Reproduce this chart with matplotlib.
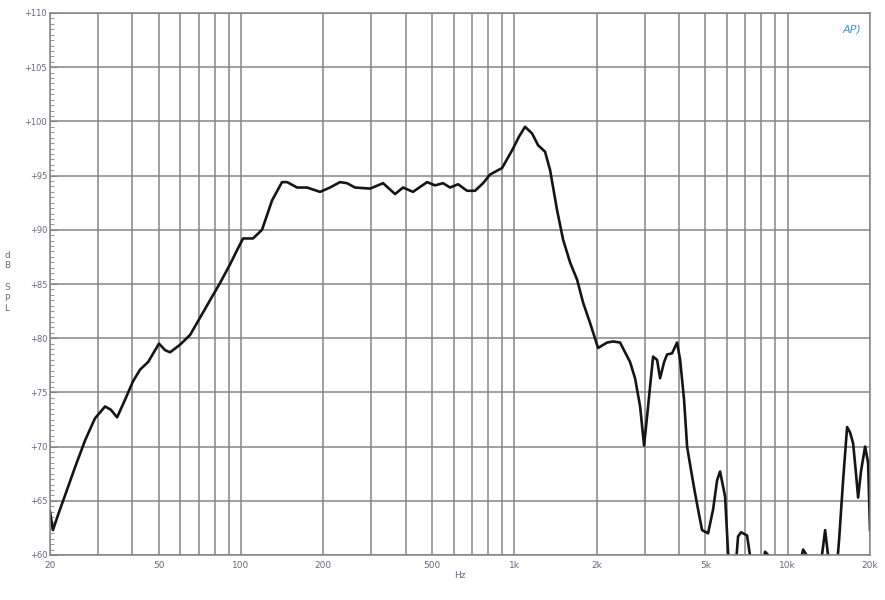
import numpy as np
import matplotlib.pyplot as plt
from matplotlib.ticker import FixedLocator, MultipleLocator, NullFormatter

# frequency response (Hz, dB SPL)
freq = [20, 20.5, 21.4, 22.7, 24.7, 26.9, 29.2, 31.8, 33.4, 35.2,
        37.6, 40.2, 42.7, 45.7, 50.1, 52.7, 55.0, 59.8, 65.1, 70.8,
        77.0, 83.8, 91.1, 97.5, 101.7, 110.6, 119.3, 129.8, 141.2, 147.3,
        160.3, 174.4, 194.5, 211.6, 230.2, 244.2, 261.2, 296.6, 330.8, 366.0,
        391.4, 425.8, 479.2, 512.6, 548.3, 581.6, 622.2, 671.4, 718.0, 768.0,
        814.8, 901.6, 989, 1040, 1094, 1160, 1221, 1295, 1351, 1433,
        1507, 1598, 1696, 1783, 1892, 2024, 2184, 2296, 2436, 2650,
        2764, 2884, 2982, 3084, 3217, 3327, 3412, 3530, 3620, 3774,
        3937, 4040, 4177, 4284, 4430, 4581, 4740, 4860, 5112, 5333,
        5517, 5656, 5899, 6052, 6206, 6418, 6582, 6750, 7100, 7283,
        7596, 8058, 8264, 8476, 8766, 10914, 11384, 11774, 12282, 13138,
        13704, 14056, 14412, 15032, 15416, 15946, 16492, 16914, 17348, 17792,
        18094, 18558, 19192, 19684, 20000]
spl = [64.0, 62.3, 63.7, 65.5, 68.1, 70.6, 72.6, 73.7, 73.4, 72.7,
       74.3, 76.0, 77.1, 77.8, 79.5, 78.9, 78.7, 79.4, 80.3, 81.9,
       83.5, 85.1, 86.8, 88.3, 89.2, 89.2, 90.0, 92.7, 94.4, 94.4,
       93.9, 93.9, 93.5, 93.9, 94.4, 94.3, 93.9, 93.8, 94.3, 93.3,
       93.9, 93.5, 94.4, 94.1, 94.3, 93.9, 94.2, 93.6, 93.6, 94.3,
       95.1, 95.7, 97.5, 98.6, 99.5, 98.9, 97.8, 97.2, 95.5, 91.8,
       89.1, 87.0, 85.4, 83.3, 81.4, 79.1, 79.6, 79.7, 79.6, 77.8,
       76.3, 73.7, 70.1, 73.7, 78.3, 78.0, 76.3, 77.8, 78.5, 78.6,
       79.6, 78.0, 74.3, 70.0, 67.8, 65.7, 63.7, 62.3, 62.0, 64.2,
       66.9, 67.7, 65.4, 60.2, 58.2, 58.2, 61.7, 62.1, 61.8, 59.9,
       58.0, 58.6, 60.3, 60.0, 58.0, 58.4, 60.5, 59.9, 58.0, 58.6,
       62.3, 59.9, 58.0, 58.0, 61.4, 66.9, 71.8, 71.3, 70.3, 67.4,
       65.3, 67.8, 70.0, 68.5, 62.3]

xtick_vals = [20, 50, 100, 200, 500, 1000, 2000, 5000, 10000, 20000]
xtick_labels = ['20', '50', '100', '200', '500', '1k', '2k', '5k', '10k', '20k']
ytick_vals = list(range(60, 111, 5))
ytick_labels = ['+%d' % v for v in ytick_vals]

grid_col = '#858585'
label_col = '#6e6480'

fig = plt.figure(figsize=(8.85, 6), dpi=100)
ax = fig.add_axes([50 / 885, 45 / 600, 820 / 885, 542 / 600])

ax.plot(freq, spl, color='#151515', lw=1.9, solid_joinstyle='round')

ax.set_xscale('log')
ax.set_xlim(20, 20000)
ax.set_ylim(60, 110)

# grid every 1-2-...-9 per decade on x, every 5 dB on y
minor_x = [m * 10 ** d for d in range(1, 5) for m in range(1, 10)
           if 20 <= m * 10 ** d <= 20000 and m * 10 ** d not in xtick_vals]
ax.xaxis.set_major_locator(FixedLocator(xtick_vals))
ax.xaxis.set_minor_locator(FixedLocator(minor_x))
ax.xaxis.set_minor_formatter(NullFormatter())
ax.set_xticklabels(xtick_labels)
ax.set_yticks(ytick_vals)
ax.set_yticklabels(ytick_labels)
ax.yaxis.set_minor_locator(MultipleLocator(0.5))

ax.grid(True, which='major', color=grid_col, lw=1.1)
ax.grid(True, which='minor', axis='x', color=grid_col, lw=1.1)

ax.tick_params(axis='x', which='both', length=0, labelsize=6.5,
               labelcolor=label_col, pad=4)
ax.tick_params(axis='y', which='major', direction='in', length=5,
               color=grid_col, labelsize=6, labelcolor=label_col, pad=2)
ax.tick_params(axis='y', which='minor', direction='in', length=3,
               color=grid_col)
for s in ax.spines.values():
    s.set_color(grid_col)
    s.set_linewidth(1.1)

ax.set_xlabel('Hz', fontsize=6.5, color=label_col, labelpad=1)
fig.text(7 / 885, 1 - 282 / 600, 'd\nB\n\nS\nP\nL', fontsize=6.5,
         color=label_col, ha='center', va='center', linespacing=1.25)

# AP logo
ax.text(0.99, 0.978, 'AP)', transform=ax.transAxes, ha='right', va='top',
        fontsize=8, style='italic', color='#3f97d8')

fig.savefig('out.png', dpi=100)
